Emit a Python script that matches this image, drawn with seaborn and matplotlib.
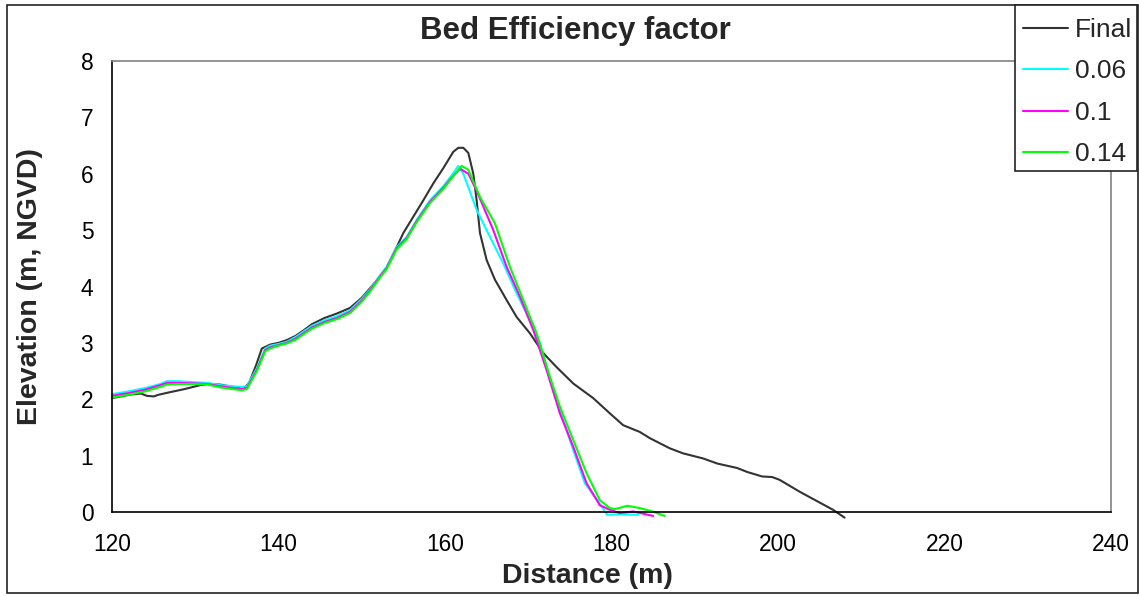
import matplotlib
matplotlib.use("Agg")
import matplotlib.pyplot as plt
from matplotlib.patches import Rectangle
import pandas as pd
import seaborn as sns

# Cross-shore profiles: distance (m) vs elevation (m, NGVD)
final_x = [120, 122.5, 123.5, 124.2, 125.0, 125.6, 126.8, 128.7, 130.6, 131.5, 133, 134.5,
           135.8, 136.5, 137.3, 138, 139, 140, 141, 142, 143, 144, 145.5, 147, 148.6, 150,
           151, 152.8, 154.2, 155, 156.2, 157.4, 158.6, 159.8, 161, 161.6, 162.2, 162.8,
           163.4, 163.8, 164.2, 165, 166, 167.4, 168.6, 170.2, 171.8, 173.4, 175.4, 177.8,
           179.8, 181.4, 183.4, 184.6, 187, 188.6, 191, 192.7, 195.1, 196.3, 198.1, 199.3,
           200.2, 202.6, 206.6, 208.0]
final_y = [2.02, 2.09, 2.10, 2.06, 2.05, 2.08, 2.12, 2.18, 2.25, 2.27, 2.26, 2.22,
           2.18, 2.30, 2.60, 2.90, 2.97, 3.00, 3.05, 3.12, 3.22, 3.33, 3.44, 3.52, 3.62, 3.80,
           3.97, 4.28, 4.70, 4.95, 5.24, 5.53, 5.83, 6.10, 6.39, 6.46, 6.46, 6.37,
           6.00, 5.53, 4.95, 4.47, 4.12, 3.76, 3.46, 3.17, 2.82, 2.57, 2.28, 2.02,
           1.75, 1.54, 1.42, 1.31, 1.13, 1.04, 0.95, 0.86, 0.78, 0.71, 0.63, 0.62,
           0.57, 0.36, 0.04, -0.10]

e006_x = [120, 122, 124, 125.8, 126.6, 128, 130, 131.5, 133, 134.5, 135.6, 136.2, 137.4,
          138.4, 139, 140, 141, 142, 143, 144, 145.5, 147, 148.6, 150, 151, 152.2, 153,
          154.2, 155.4, 156.6, 158.2, 159.8, 160.8, 161.6, 162.2, 163.8, 165.4, 167, 168.6,
          170.2, 171.4, 172.4, 173.8, 175.4, 176.8, 178.3, 179.5, 181, 183.2]
e006_y = [2.09, 2.14, 2.20, 2.27, 2.32, 2.32, 2.30, 2.29, 2.25, 2.23, 2.22, 2.23, 2.55,
          2.90, 2.95, 2.98, 3.02, 3.10, 3.20, 3.30, 3.40, 3.47, 3.58, 3.78, 3.95, 4.20, 4.35,
          4.70, 4.88, 5.18, 5.53, 5.78, 5.97, 6.14, 6.00, 5.36, 4.88, 4.41, 3.88,
          3.40, 3.00, 2.45, 1.81, 1.10, 0.51, 0.21, -0.05, -0.04, -0.05]

e010_x = [120, 122, 124, 125.8, 126.6, 128, 130, 131.5, 133, 134.5, 135.6, 136.2, 137.4,
          138.4, 139, 140, 141, 142, 143, 144, 145.5, 147, 148.6, 150, 151, 152.2, 153,
          154.2, 155.4, 156.6, 158.2, 159.8, 160.8, 161.8, 162.8, 163.8, 165.8, 167.4, 169,
          170.6, 172.2, 173.8, 175.4, 177, 178.6, 179.8, 181, 182.6, 185]
e010_y = [2.06, 2.11, 2.17, 2.25, 2.29, 2.29, 2.28, 2.27, 2.23, 2.20, 2.18, 2.20, 2.52,
          2.87, 2.92, 2.96, 3.00, 3.07, 3.17, 3.27, 3.37, 3.44, 3.55, 3.75, 3.93, 4.18, 4.33,
          4.68, 4.86, 5.16, 5.50, 5.75, 5.93, 6.09, 6.00, 5.70, 5.00, 4.35, 3.82,
          3.23, 2.52, 1.75, 1.16, 0.51, 0.12, 0.04, -0.02, 0.01, -0.07]

e014_x = [120, 122, 124, 125.8, 126.6, 128, 130, 131.5, 133, 134.5, 135.6, 136.2, 137.4,
          138.4, 139, 140, 141, 142, 143, 144, 145.5, 147, 148.6, 150, 151, 152.2, 153,
          154.2, 155.4, 156.6, 158.2, 159.8, 160.8, 162, 162.8, 164.2, 166, 167.8, 169.4,
          171, 172.6, 173.8, 175.4, 177, 178.6, 179.8, 180.4, 181.9, 183.4, 184.9, 186.4]
e014_y = [2.03, 2.08, 2.14, 2.22, 2.26, 2.27, 2.27, 2.26, 2.21, 2.18, 2.16, 2.18, 2.50,
          2.85, 2.90, 2.95, 2.99, 3.05, 3.15, 3.25, 3.35, 3.42, 3.53, 3.73, 3.91, 4.16, 4.31,
          4.66, 4.84, 5.14, 5.48, 5.73, 5.92, 6.14, 6.07, 5.59, 5.12, 4.35, 3.76,
          3.17, 2.40, 1.87, 1.28, 0.69, 0.21, 0.07, 0.05, 0.11, 0.07, 0.01, -0.07]

series_names = ["Final", "0.06", "0.1", "0.14"]
series_colors = ["#333333", "#00FFFF", "#FF00FF", "#00FF00"]
x_ticks = [120, 140, 160, 180, 200, 220, 240]
y_ticks = [0, 1, 2, 3, 4, 5, 6, 7, 8]

frames = []
for name, xs, ys in zip(series_names,
                        [final_x, e006_x, e010_x, e014_x],
                        [final_y, e006_y, e010_y, e014_y]):
    frames.append(pd.DataFrame({"Distance": xs, "Elevation": ys, "Series": name}))
df = pd.concat(frames, ignore_index=True)

sns.set_theme(style="white")
plt.rcParams["font.family"] = ["Liberation Sans", "DejaVu Sans"]

W, H = 1139, 596
fig = plt.figure(figsize=(W / 100, H / 100), dpi=100)
ax = fig.add_axes([112 / W, 1 - 512 / H, (1111 - 112) / W, (512 - 61) / H])

sns.lineplot(data=df, x="Distance", y="Elevation", hue="Series",
             hue_order=series_names, palette=dict(zip(series_names, series_colors)),
             sort=False, estimator=None, linewidth=1.5, ax=ax, legend=False)
for line in ax.lines:
    line.set_clip_on(False)

ax.set_xlim(120, 240)
ax.set_ylim(0, 8)
ax.set_xticks(x_ticks)
ax.set_yticks(y_ticks)
ax.tick_params(axis="both", which="major", direction="out", length=5, width=1,
               color="black", labelsize=16.4, labelcolor="black")
ax.tick_params(axis="y", pad=8.5)
ax.tick_params(axis="x", pad=10)

for side in ["left", "bottom"]:
    ax.spines[side].set_color("black")
    ax.spines[side].set_linewidth(1.2)
for side in ["top", "right"]:
    ax.spines[side].set_color("#808080")
    ax.spines[side].set_linewidth(1.2)
    ax.spines[side].set_visible(True)

ax.set_xlabel("Distance (m)", fontsize=20.5, fontweight="bold")
ax.xaxis.label.set_va("center")
ax.xaxis.set_label_coords((587 - 112) / 999, (512 - 576) / 451)
ax.set_ylabel("Elevation (m, NGVD)", fontsize=20.5, fontweight="bold")
ax.yaxis.label.set_va("center")
ax.yaxis.set_label_coords((30 - 112) / 999, 0.5)

fig.text(575 / W, 1 - 31 / H, "Bed Efficiency factor", fontsize=22.5,
         fontweight="bold", ha="center", va="center")

# Outer chart border
fig.patches.append(Rectangle((7 / W, 1 - 593 / H), (1138 - 7) / W, (593 - 5) / H,
                             transform=fig.transFigure, fill=False,
                             edgecolor="#222222", linewidth=1.2, zorder=0))

# Legend box (white, sits over the plot's top-right corner)
fig.patches.append(Rectangle((1015 / W, 1 - 171 / H), (1137 - 1015) / W, (171 - 5) / H,
                             transform=fig.transFigure, facecolor="white",
                             edgecolor="#222222", linewidth=1.2, zorder=4))

handles = [plt.Line2D([], [], color=c, linewidth=1.5) for c in series_colors]
leg = fig.legend(handles, series_names, loc="upper left",
                 bbox_to_anchor=(1015 / W, 1 - 10 / H), borderaxespad=0,
                 fontsize=19, frameon=False, handlelength=1.7, handletextpad=0.27,
                 labelspacing=0.66, borderpad=0.3)
leg.set_zorder(5)

fig.savefig("out.png", dpi=100, facecolor="white")
